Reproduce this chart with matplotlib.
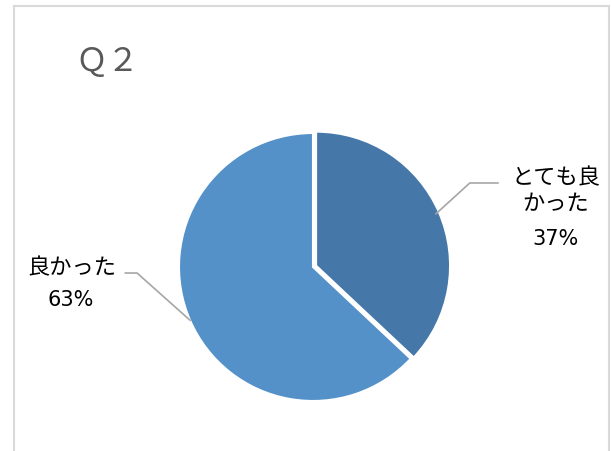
import matplotlib
matplotlib.use("Agg")
import matplotlib.pyplot as plt
import numpy as np

plt.rcParams['font.family'] = ['Noto Sans CJK JP', 'DejaVu Sans']

title = "Ｑ２"
labels = ["とても良\nかった", "良かった"]
values = [37, 63]
colors = ["#4677a9", "#5591c9"]

fig = plt.figure(figsize=(6.11, 4.51), dpi=100)

# frame of the chart area (no bottom edge visible)
W, H = 611, 451
fig.add_artist(plt.Line2D([14/W, 14/W], [0, 1-6/H], color="#d9d9d9", lw=1.5, transform=fig.transFigure))
fig.add_artist(plt.Line2D([14/W, 609/W], [1-6/H, 1-6/H], color="#d9d9d9", lw=1.5, transform=fig.transFigure))
fig.add_artist(plt.Line2D([609/W, 609/W], [0, 1-6/H], color="#d9d9d9", lw=1.5, transform=fig.transFigure))

cx, cy, r = 313, 267, 134
ax = fig.add_axes([(cx-r)/W, (H-cy-r)/H, 2*r/W, 2*r/H])
ax.pie(values, colors=colors, startangle=90, counterclock=False,
       explode=[0.025, 0], wedgeprops=dict(edgecolor="white", linewidth=1.5))
ax.set_xlim(-1, 1)
ax.set_ylim(-1, 1)
ax.set_aspect("auto")
ax.axis("off")

fig.text(75/W, 1-62/H, title, fontsize=23, color="#595959", va="center", ha="left")

# leader lines start at the mid angle of each wedge
cum = np.cumsum([0] + values)
mids = [90 - (cum[i] + values[i]/2) / 100 * 360 for i in range(len(values))]
elbows = [((1.17, 0.627), (1.38, 0.627)), ((-1.313, -0.045), (-1.40, -0.045))]
for i, m in enumerate(mids):
    a = np.deg2rad(m)
    x0, y0 = np.cos(a), np.sin(a)
    (x1, y1), (x2, y2) = elbows[i]
    ax.plot([x0, x1, x2], [y0, y1, y2], color="#a6a6a6", lw=1.2, clip_on=False)

pct_font = ['Liberation Sans Narrow', 'DejaVu Sans']
ax.text(1.81, 0.57, labels[0], fontsize=16, ha="center", va="center", linespacing=1.15, clip_on=False)
ax.text(1.81, 0.21, f"{values[0]}%", fontsize=15, family=pct_font, ha="center", va="center", clip_on=False)
ax.text(-1.80, -0.007, labels[1], fontsize=16, ha="center", va="center", clip_on=False)
ax.text(-1.81, -0.246, f"{values[1]}%", fontsize=15, family=pct_font, ha="center", va="center", clip_on=False)

fig.savefig("out.png", dpi=100, facecolor="white")
